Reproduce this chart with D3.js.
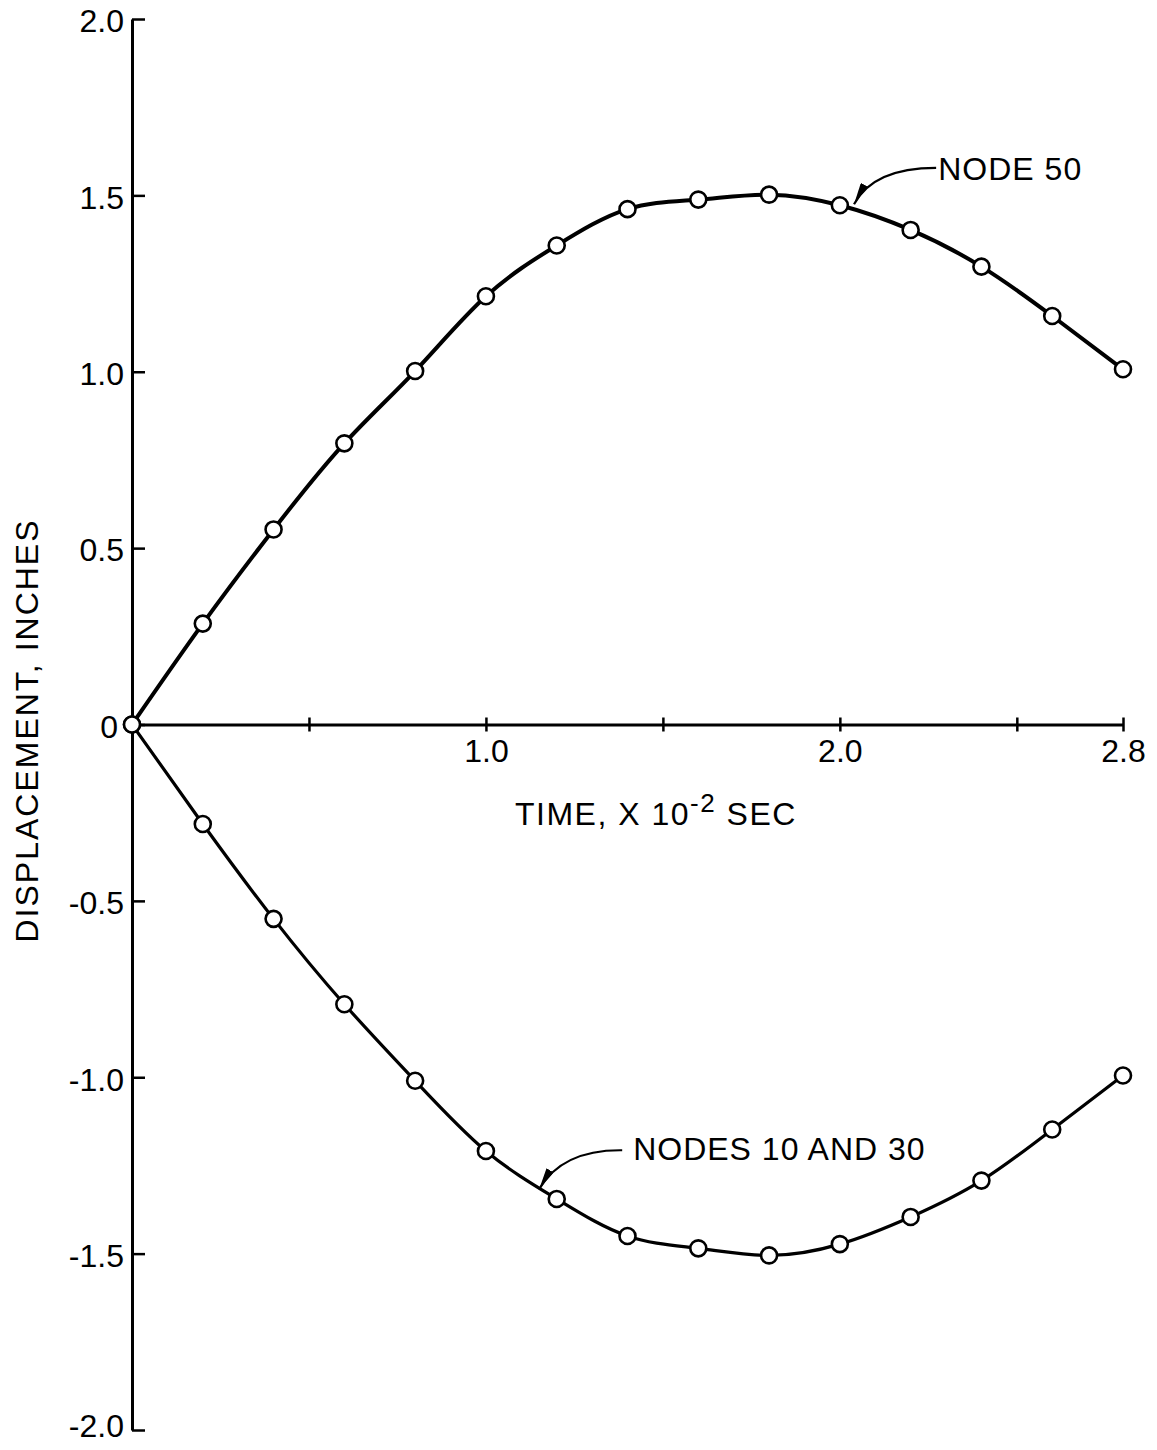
<!DOCTYPE html>
<html>
<head>
<meta charset="utf-8">
<script src="https://cdn.jsdelivr.net/npm/d3@7"></script>
<style>
  html, body { margin: 0; padding: 0; background: #fff; }
  svg { display: block; }
  text { font-family: "Liberation Sans", Arial, sans-serif; fill: #000; }
</style>
</head>
<body>
<svg id="chart" width="1157" height="1450"></svg>
<script>
// ---- data ----
const times = [0, 0.2, 0.4, 0.6, 0.8, 1.0, 1.2, 1.4, 1.6, 1.8, 2.0, 2.2, 2.4, 2.6, 2.8];
const node50 = [0, 0.286, 0.553, 0.797, 1.002, 1.214, 1.358, 1.461, 1.488, 1.502, 1.472, 1.402, 1.298, 1.158, 1.007];
const nodes10and30 = [0, -0.282, -0.551, -0.793, -1.010, -1.209, -1.345, -1.450, -1.485, -1.505, -1.473, -1.396, -1.293, -1.148, -0.995];
const xTicks = [0.5, 1.0, 1.5, 2.0, 2.5, 2.8];
const xTickLabels = {1.0: "1.0", 2.0: "2.0", 2.8: "2.8"};
const yTicks = [-2.0, -1.5, -1.0, -0.5, 0, 0.5, 1.0, 1.5, 2.0];
const yTickLabels = ["-2.0", "-1.5", "-1.0", "-0.5", "0", "0.5", "1.0", "1.5", "2.0"];
const xTitle = "TIME, X 10";
const xTitleSup = "-2";
const xTitleEnd = " SEC";
const yTitle = "DISPLACEMENT, INCHES";
// annotations in data units: label anchor, leader start, control, tip
const annoLabels = ["NODE 50", "NODES 10 AND 30"];
const annoText = [[2.278, 1.544], [1.416, -1.235]];
const annoStart = [[2.272, 1.578], [1.385, -1.207]];
const annoCtrl = [[2.095, 1.578], [1.215, -1.205]];
const annoTip = [[2.040, 1.475], [1.150, -1.318]];

// ---- layout ----
const svg = d3.select("#chart");
const x = d3.scaleLinear().domain([0, 2.8]).range([132, 1123]);
const y = d3.scaleLinear().domain([-2, 2]).range([1430, 19]);

// y axis
const yAxis = d3.axisLeft(y)
  .tickValues(yTicks)
  .tickFormat((d, i) => yTickLabels[i])
  .tickSizeInner(-13)
  .tickSizeOuter(0)
  .tickPadding(8);
const gy = svg.append("g").attr("transform", `translate(${x(0)},0)`).call(yAxis);
gy.select(".domain").attr("stroke", "#000").attr("stroke-width", 3);
gy.selectAll(".tick line").attr("stroke", "#000").attr("stroke-width", 2.5);
gy.selectAll(".tick text")
  .attr("font-size", 32)
  .attr("font-family", "Liberation Sans, Arial, sans-serif")
  .attr("fill", "#000")
  .attr("dy", d => d === -2 ? "0.2em" : "0.4em")
  .attr("x", d => d === 0 ? -14 : -8);

// x axis
const xAxis = d3.axisBottom(x)
  .tickValues(xTicks)
  .tickFormat(d => xTickLabels[d] || "")
  .tickSizeInner(7)
  .tickSizeOuter(0)
  .tickPadding(8);
const gx = svg.append("g").attr("transform", `translate(0,${y(0)})`).call(xAxis);
gx.select(".domain").attr("stroke", "#000").attr("stroke-width", 3);
gx.selectAll(".tick line").attr("y1", -7).attr("stroke", "#000").attr("stroke-width", 2.5);
gx.selectAll(".tick text")
  .attr("font-size", 32)
  .attr("font-family", "Liberation Sans, Arial, sans-serif")
  .attr("fill", "#000");

// axis titles
const xt = svg.append("text")
  .attr("x", 515).attr("y", 825)
  .attr("font-size", 32)
  .attr("letter-spacing", 1.5);
xt.append("tspan").text(xTitle);
xt.append("tspan").attr("dy", -13).attr("font-size", 26).text(xTitleSup);
xt.append("tspan").attr("dy", 13).text(xTitleEnd);

svg.append("text")
  .attr("transform", `translate(38,${y(0) + 6}) rotate(-90)`)
  .attr("text-anchor", "middle")
  .attr("font-size", 32)
  .attr("letter-spacing", 2)
  .text(yTitle);

// curves
const line = d3.line()
  .x((d, i) => x(times[i]))
  .y(d => y(d))
  .curve(d3.curveNatural);

const series = [
  {values: node50, width: 4},
  {values: nodes10and30, width: 3.2}
];
series.forEach(s => {
  svg.append("path")
    .datum(s.values)
    .attr("d", line)
    .attr("fill", "none")
    .attr("stroke", "#000")
    .attr("stroke-width", s.width);
});
series.forEach(s => {
  svg.append("g").selectAll("circle")
    .data(s.values)
    .join("circle")
    .attr("cx", (d, i) => x(times[i]))
    .attr("cy", d => y(d))
    .attr("r", 8)
    .attr("fill", "#fff")
    .attr("stroke", "#000")
    .attr("stroke-width", 2.6);
});

// annotations
const defs = svg.append("defs");
defs.append("marker")
  .attr("id", "arrow")
  .attr("viewBox", "0 -4 22 8")
  .attr("refX", 22).attr("refY", 0)
  .attr("markerWidth", 22).attr("markerHeight", 8)
  .attr("markerUnits", "userSpaceOnUse")
  .attr("orient", "auto")
  .append("path")
  .attr("d", "M0,-4L22,0L0,4Z")
  .attr("fill", "#000");

annoLabels.forEach((lab, i) => {
  const p = d3.path();
  p.moveTo(x(annoStart[i][0]), y(annoStart[i][1]));
  p.quadraticCurveTo(x(annoCtrl[i][0]), y(annoCtrl[i][1]), x(annoTip[i][0]), y(annoTip[i][1]));
  svg.append("path")
    .attr("d", p.toString())
    .attr("fill", "none")
    .attr("stroke", "#000")
    .attr("stroke-width", 2.2)
    .attr("marker-end", "url(#arrow)");
  svg.append("text")
    .attr("x", x(annoText[i][0]))
    .attr("y", y(annoText[i][1]))
    .attr("font-size", 32)
    .attr("letter-spacing", 1)
    .text(lab);
});
</script>
</body>
</html>
